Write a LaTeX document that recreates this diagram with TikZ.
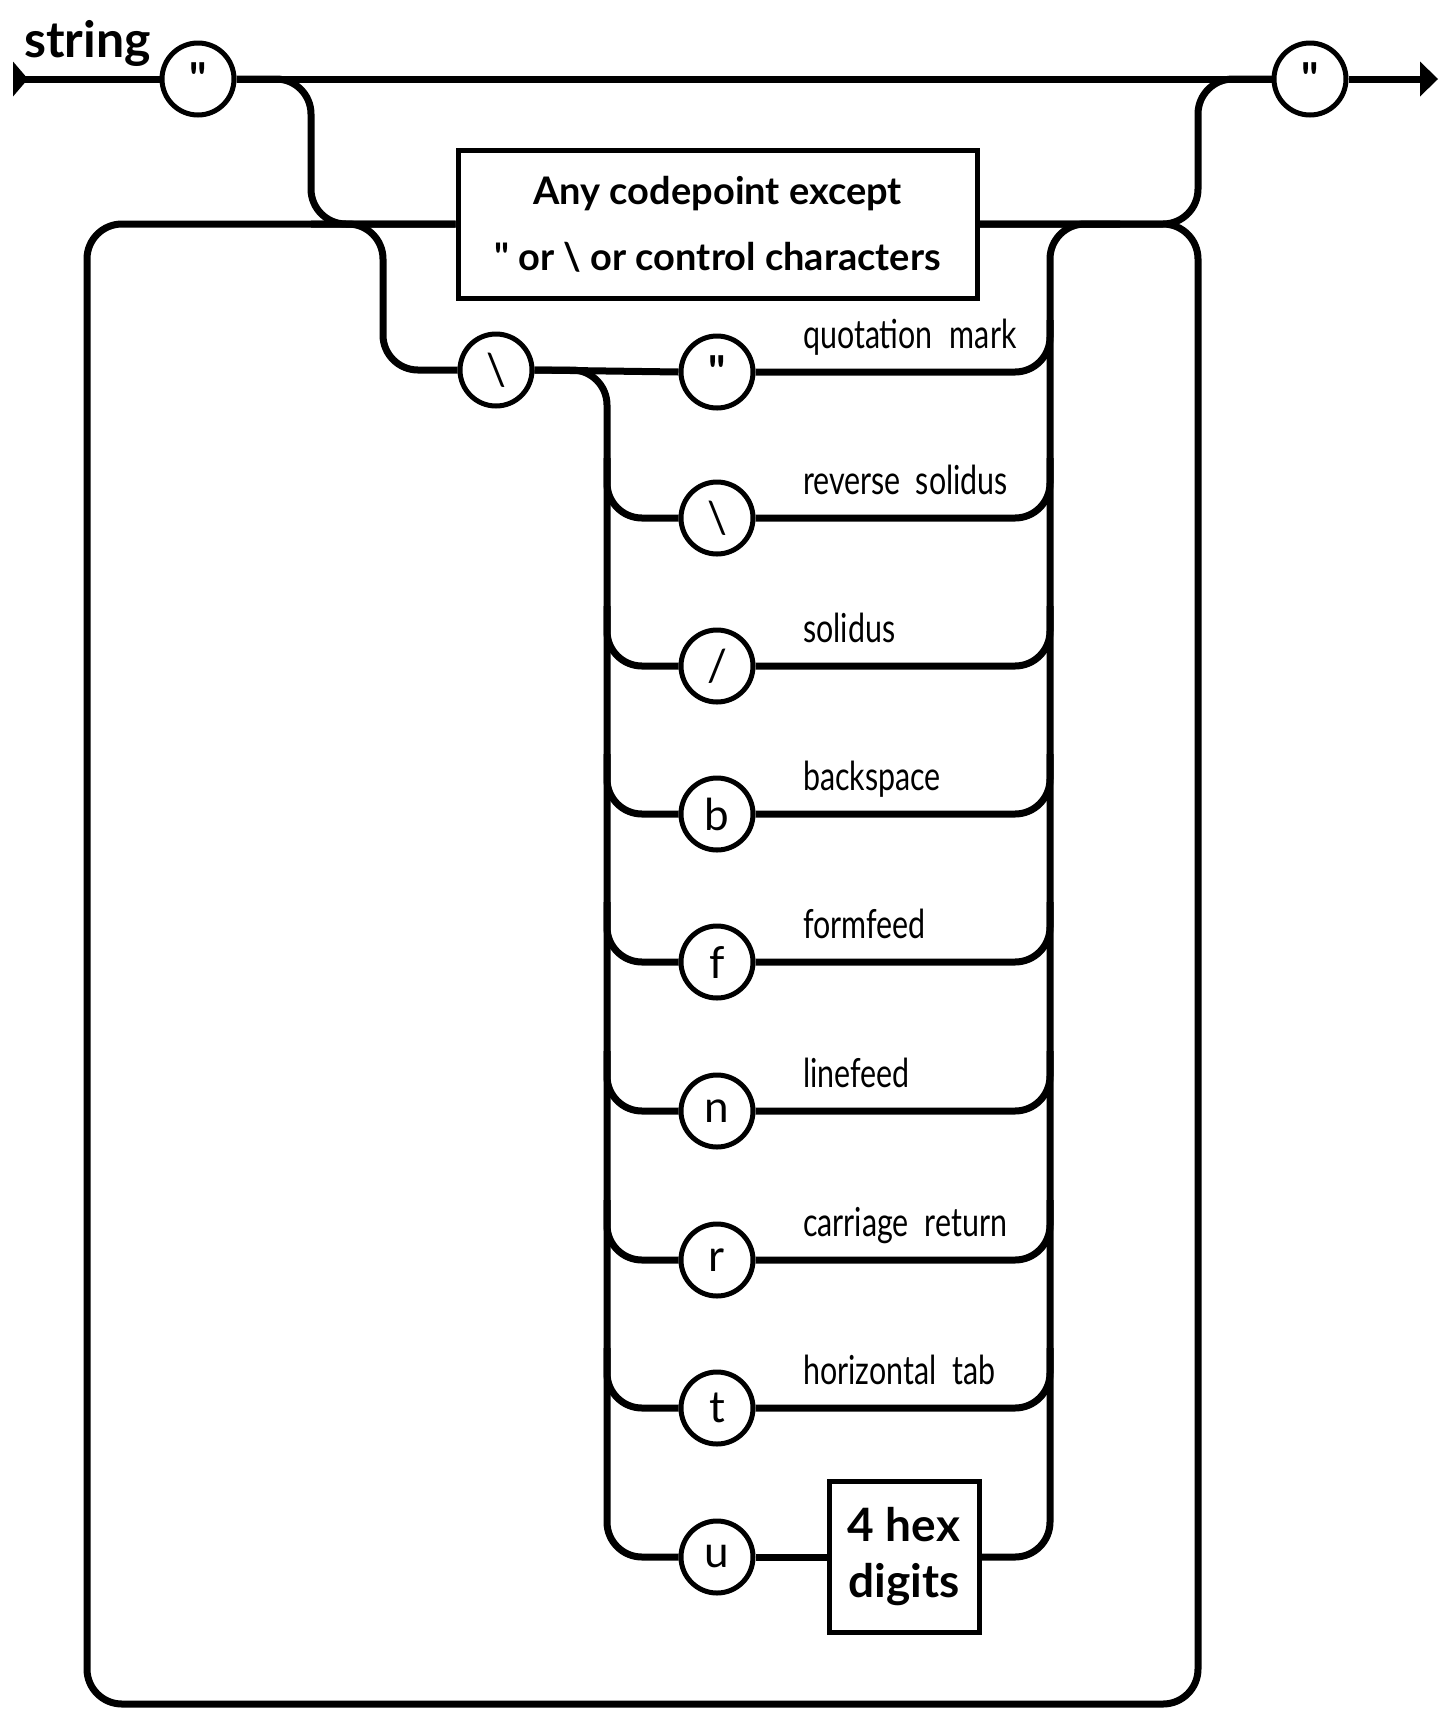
\documentclass[tikz,border=0pt]{standalone}
\usepackage{fontspec}
\setmainfont{Lato}[Ligatures=TeXOff]
\newfontfamily\condfont[FakeStretch=0.76]{Lato}
\newcommand{\sq}{\char34\relax}
\begin{document}
\begin{tikzpicture}[x=1pt,y=-1pt,
  rail/.style={line width=7pt, rounded corners=35pt},
  term/.style={circle, draw, line width=5pt, minimum size=72pt, inner sep=0pt, fill=white, font=\fontsize{44}{44}\selectfont},
  bterm/.style={term, font=\bfseries\fontsize{44}{44}\selectfont},
  nonterm/.style={rectangle, draw, line width=5pt, inner sep=0pt, fill=white, align=center},
  lbl/.style={anchor=base west, inner sep=0pt, font=\condfont\fontsize{40}{40}\selectfont},
  tip/.style={fill=black}
]
\fill[white] (0,0) rectangle (1440,1709);
\useasboundingbox (0,0) rectangle (1440,1709);

% title
\node[anchor=base west, inner sep=0pt, font=\bfseries\fontsize{50}{50}\selectfont] (title) at (24,57) {string};

% terminals on main line
\node[bterm] (q0) at (198,79) {\sq};
\node[bterm] (q9) at (1310,79) {\sq};
\coordinate (start) at (13,79);
\coordinate (end) at (1420,79);

% top box
\node[nonterm, minimum width=519pt, minimum height=148pt, font=\bfseries\fontsize{38}{66}\selectfont] (tb) at (717.5,224) {Any codepoint except\\\sq{} or \textbackslash{} or control characters};

% escape
\node[term] (bs) at (496,370) {\textbackslash};
\node[bterm] (e1) at (717,372) {\sq};
\node[term] (e2) at (717,518) {\textbackslash};
\node[term] (e3) at (717,666) {/};
\node[term] (e4) at (717,814) {b};
\node[term] (e5) at (717,962) {f};
\node[term] (e6) at (717,1111) {n};
\node[term] (e7) at (717,1260) {r};
\node[term] (e8) at (717,1408) {t};
\node[term] (e9) at (717,1557) {u};
\node[nonterm, minimum width=150pt, minimum height=151pt, font=\bfseries\fontsize{46}{56}\selectfont] (hex) at (904,1557) {4 hex\\digits};

% labels
\node[lbl] (l1) at (803,348) {quotation\hspace{17pt}mark};
\node[lbl] (l2) at (803,494) {reverse\hspace{15pt}solidus};
\node[lbl] (l3) at (803,642) {solidus};
\node[lbl] (l4) at (803,790) {backspace};
\node[lbl] (l5) at (803,938) {formfeed};
\node[lbl] (l6) at (803,1087) {linefeed};
\node[lbl] (l7) at (803,1236) {carriage\hspace{16pt}return};
\node[lbl] (l8) at (803,1384) {horizontal\hspace{16pt}tab};

% main line
\draw[rail] (start) -- (q0.west);
\fill[tip] (start) ++(0,-17.5) -- ++(15,17.5) -- ++(-15,17.5) -- cycle;
\draw[rail] (q0.east) -- (q9.west);
\draw[rail] (q9.east) -- (end);
\fill[tip] (end) ++(0,-17.5) -- ++(18,17.5) -- ++(-18,17.5) -- cycle;

% branch into loop and join back
\draw[rail] (q0.east) -- (311,79) -- (311,224) -- (tb.west);
\draw[rail] (tb.east) -- (1198,224) -- (1198,79) -- (q9.west);
% outer loop back
\draw[rail] (tb.east) -- (1198,224) -- (1198,1704) -- (87,1704) -- (87,224) -- (tb.west);
% escape branch
\draw[rail] (311,224) -- (383,224) -- (383,370) -- (bs.west);
\draw[rail] (bs.east) -- (e1.west);
\draw[rail] (bs.east) -- (607,370) -- (607,1557) -- (e9.west);
\draw[rail] (hex.east) -- (1050,1557) -- (1050,224) -- (1120,224);
\draw[rail] (e1.east) -- (1050,372) -- (1050,320);
\foreach \n/\y in {e2/518,e3/666,e4/814,e5/962,e6/1111,e7/1260,e8/1408}{
  \draw[rail] (607,\y-60) -- (607,\y) -- (\n.west);
  \draw[rail] (\n.east) -- (1050,\y) -- (1050,\y-60);
}
\draw[rail] (e9.east) -- (hex.west);
\end{tikzpicture}
\end{document}
